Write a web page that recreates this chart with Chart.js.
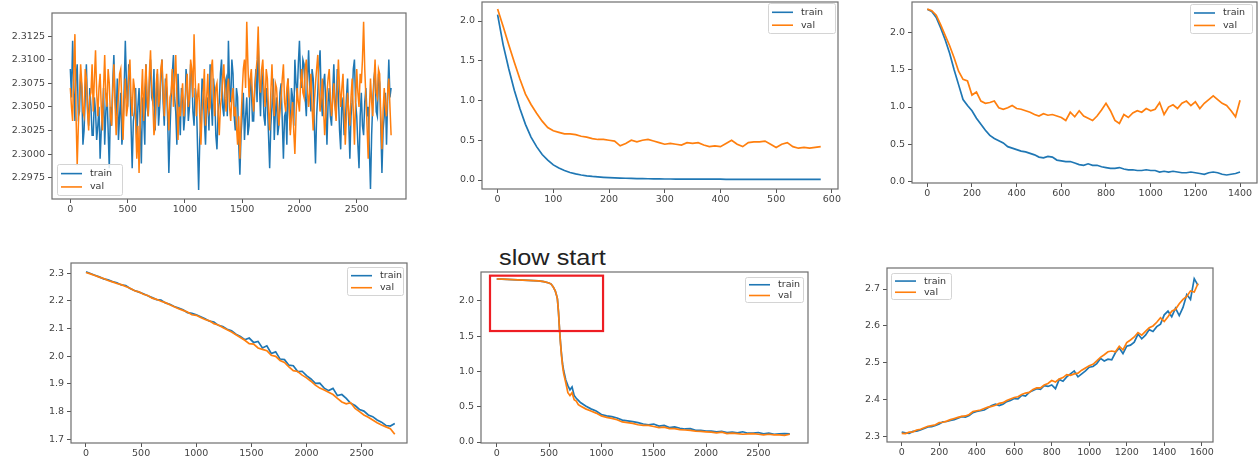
<!DOCTYPE html>
<html>
<head>
<meta charset="utf-8">
<script src="https://cdn.jsdelivr.net/npm/chart.js@4.4.0/dist/chart.umd.min.js"></script>
<style>
html,body{margin:0;padding:0;background:#fff;}
body{width:1260px;height:459px;position:relative;overflow:hidden;}
canvas{position:absolute;}
#note{position:absolute;left:499px;top:247px;font-family:"Liberation Sans",Arial,sans-serif;font-size:22px;line-height:22px;color:#222;transform:scaleX(1.15);transform-origin:0 0;white-space:nowrap;}
</style>
</head>
<body>
<div id="note">slow start</div>
<script>
// ---------------- DATA ----------------
const seriesNames = ['train', 'val'];

// Panel 1 (top-left): flat noisy loss
const steps1 = [0,10,20,30,40,50,60,70,80,90,100,110,120,130,140,150,160,170,180,190,200,210,220,230,240,250,260,270,280,290,300,310,320,330,340,350,360,370,380,390,400,410,420,430,440,450,460,470,480,490,500,510,520,530,540,550,560,570,580,590,600,610,620,630,640,650,660,670,680,690,700,710,720,730,740,750,760,770,780,790,800,810,820,830,840,850,860,870,880,890,900,910,920,930,940,950,960,970,980,990,1000,1010,1020,1030,1040,1050,1060,1070,1080,1090,1100,1110,1120,1130,1140,1150,1160,1170,1180,1190,1200,1210,1220,1230,1240,1250,1260,1270,1280,1290,1300,1310,1320,1330,1340,1350,1360,1370,1380,1390,1400,1410,1420,1430,1440,1450,1460,1470,1480,1490,1500,1510,1520,1530,1540,1550,1560,1570,1580,1590,1600,1610,1620,1630,1640,1650,1660,1670,1680,1690,1700,1710,1720,1730,1740,1750,1760,1770,1780,1790,1800,1810,1820,1830,1840,1850,1860,1870,1880,1890,1900,1910,1920,1930,1940,1950,1960,1970,1980,1990,2000,2010,2020,2030,2040,2050,2060,2070,2080,2090,2100,2110,2120,2130,2140,2150,2160,2170,2180,2190,2200,2210,2220,2230,2240,2250,2260,2270,2280,2290,2300,2310,2320,2330,2340,2350,2360,2370,2380,2390,2400,2410,2420,2430,2440,2450,2460,2470,2480,2490,2500,2510,2520,2530,2540,2550,2560,2570,2580,2590,2600,2610,2620,2630,2640,2650,2660,2670,2680,2690,2700,2710,2720,2730,2740,2750,2760,2770,2780,2790,2800];
const train1 = [
2.3090,2.3060,2.3120,2.3075,2.3035,2.3080,2.3095,2.3040,2.3045,2.3085,2.3070,2.3010,2.3025,2.3060,2.3095,2.3050,2.3030,2.3070,2.3050,2.3020,
2.3020,2.3060,2.3045,2.3015,2.3030,2.3050,2.2995,2.3025,2.3040,2.3070,2.3010,2.3045,2.3065,2.3025,2.2985,2.3050,2.3030,2.3075,2.3105,2.3060,
2.3040,2.3080,2.3015,2.3040,2.3065,2.3010,2.3025,2.3070,2.3120,2.3075,2.3050,2.3095,2.3080,2.3030,2.2985,2.3035,2.3045,2.3070,2.3010,2.3050,
2.3070,2.3030,2.2990,2.3060,2.3040,2.3010,2.3095,2.3050,2.3040,2.3075,2.3100,2.3060,2.3055,2.3090,2.3025,2.3060,2.3085,2.3030,2.3050,2.3080,
2.3100,2.3055,2.3030,2.3080,2.3070,2.3035,2.2980,2.3025,2.3060,2.3085,2.3105,2.3060,2.3045,2.3010,2.3085,2.3050,2.3020,2.3070,2.3060,2.3025,
2.3040,2.3090,2.3075,2.3035,2.3050,2.3095,2.3085,2.3045,2.3030,2.3070,2.3060,2.3010,2.2962,2.3015,2.3040,2.3080,2.3070,2.3035,2.3010,2.3050,
2.3060,2.3025,2.3095,2.3055,2.3030,2.3080,2.3065,2.3020,2.3005,2.3045,2.3055,2.3085,2.3100,2.3050,2.3040,2.3075,2.3080,2.3040,2.3120,2.3070,
2.3055,2.3100,2.3085,2.3040,2.3025,2.3070,2.3060,2.3010,2.2978,2.3020,2.3040,2.3065,2.3015,2.3040,2.3060,2.3020,2.3030,2.3080,2.3070,2.3035,
2.3035,2.3070,2.3090,2.3055,2.3120,2.3075,2.3040,2.3090,2.3075,2.3040,2.3030,2.3070,2.3055,2.3020,2.2985,2.3030,2.3050,2.3080,2.3015,2.3045,
2.3060,2.3020,2.3030,2.3065,2.3075,2.3035,2.2995,2.3040,2.3045,2.3010,2.3080,2.3050,2.3025,2.3070,2.3060,2.3030,2.3100,2.3075,2.3060,2.3095,
2.3120,2.3080,2.3070,2.3100,2.3095,2.3060,2.3040,2.3080,2.3110,2.3070,2.3045,2.3090,2.3080,2.3030,2.2990,2.3040,2.3065,2.3095,2.3110,2.3060,
2.3040,2.3075,2.3085,2.3050,2.3010,2.3055,2.3070,2.3040,2.3030,2.3065,2.3095,2.3055,2.3040,2.3090,2.3060,2.3025,2.3005,2.3060,2.3050,2.3020,
2.3030,2.3060,2.3080,2.3035,2.2995,2.3040,2.3055,2.3090,2.3100,2.3055,2.3040,2.3010,2.2985,2.3040,2.3065,2.3030,2.3020,2.3055,2.3070,2.3040,
2.3050,2.3005,2.2963,2.3020,2.3055,2.3080,2.3090,2.3045,2.3040,2.3085,2.3075,2.3030,2.2980,2.3025,2.3040,2.3065,2.3010,2.3060,2.3100,2.3060,
2.3070];
const val1 = [
2.3070,2.3050,2.3035,2.3090,2.3127,2.3040,2.2988,2.3030,2.3060,2.3095,2.3075,2.3045,2.3040,2.3090,2.3080,2.3045,2.3025,2.3060,2.3065,2.3095,
2.3045,2.3080,2.3110,2.3065,2.3040,2.3070,2.3085,2.3050,2.3025,2.3070,2.3105,2.3060,2.3050,2.3090,2.3075,2.3040,2.3030,2.3065,2.3095,2.3055,
2.3020,2.3045,2.3060,2.3085,2.3090,2.3050,2.3015,2.3055,2.3080,2.3040,2.3050,2.3085,2.3100,2.3060,2.3040,2.3080,2.3070,2.3035,2.2995,2.3030,
2.2980,2.3035,2.3060,2.3090,2.3035,2.3070,2.3095,2.3060,2.3040,2.3085,2.3110,2.3070,2.3055,2.3020,2.3030,2.3075,2.3090,2.3050,2.3060,2.3090,
2.3100,2.3065,2.3040,2.3070,2.3085,2.3050,2.3025,2.3060,2.3065,2.3090,2.3050,2.3080,2.3105,2.3060,2.3015,2.3050,2.3040,2.3060,2.3075,2.3040,
2.3050,2.3070,2.3085,2.3050,2.3060,2.3100,2.3090,2.3060,2.3127,2.3080,2.3040,2.3060,2.3075,2.3040,2.3010,2.3045,2.3065,2.3090,2.3030,2.3060,
2.3085,2.3045,2.3050,2.3090,2.3100,2.3065,2.3040,2.3070,2.3075,2.3045,2.3020,2.3050,2.3060,2.3080,2.3095,2.3060,2.3045,2.3070,2.3080,2.3050,
2.3035,2.3060,2.3070,2.3040,2.3050,2.3030,2.3010,2.3040,2.2995,2.3035,2.3065,2.3090,2.3100,2.3070,2.3140,2.3095,2.3060,2.3080,2.3090,2.3060,
2.3045,2.3070,2.3085,2.3100,2.3135,2.3080,2.3065,2.3090,2.3100,2.3070,2.3050,2.3090,2.3080,2.3045,2.3025,2.3065,2.3095,2.3060,2.3040,2.3075,
2.3070,2.3050,2.3030,2.3045,2.3060,2.3080,2.3095,2.3055,2.3045,2.3070,2.3080,2.3050,2.3020,2.3040,2.3055,2.3025,2.3000,2.3040,2.3070,2.3055,
2.3045,2.3075,2.3090,2.3065,2.3060,2.3090,2.3100,2.3070,2.3050,2.3065,2.3085,2.3050,2.3025,2.3055,2.3075,2.3090,2.3105,2.3070,2.3045,2.3060,
2.3080,2.3050,2.3020,2.3040,2.3065,2.3080,2.3090,2.3060,2.3040,2.3055,2.3075,2.3050,2.3035,2.3070,2.3100,2.3070,2.3050,2.3070,2.3085,2.3045,
2.3010,2.3040,2.3065,2.3045,2.3030,2.3060,2.3080,2.3045,2.3010,2.3055,2.3090,2.3065,2.3050,2.3085,2.3075,2.3100,2.3140,2.3090,2.3060,2.3030,
2.2995,2.3045,2.3080,2.3055,2.3040,2.3075,2.3100,2.3065,2.3060,2.3090,2.3085,2.3040,2.3005,2.3045,2.3070,2.3050,2.3040,2.3065,2.3080,2.3050,
2.3020];
const xTicks1 = [0,500,1000,1500,2000,2500];
const xLabels1 = ['0','500','1000','1500','2000','2500'];
const yTicks1 = [2.2975,2.3000,2.3025,2.3050,2.3075,2.3100,2.3125];
const yLabels1 = ['2.2975','2.3000','2.3025','2.3050','2.3075','2.3100','2.3125'];

// Panel 2 (top-middle): fast fit, val plateaus
const steps2 = [0,10,20,30,40,50,60,70,80,90,100,110,120,130,140,150,160,170,180,190,200,210,220,230,240,250,260,270,280,290,300,310,320,330,340,350,360,370,380,390,400,410,420,430,440,450,460,470,480,490,500,510,520,530,540,550,560,570,580];
const train2 = [2.08,1.70,1.40,1.13,0.90,0.70,0.54,0.42,0.32,0.25,0.19,0.15,0.12,0.095,0.077,0.063,0.053,0.045,0.039,0.034,0.030,0.027,0.024,0.022,0.020,0.018,0.017,0.016,0.015,0.014,0.013,0.013,0.012,0.012,0.011,0.011,0.011,0.010,0.010,0.010,0.010,0.009,0.009,0.009,0.009,0.009,0.008,0.008,0.008,0.008,0.008,0.008,0.007,0.007,0.007,0.007,0.007,0.007,0.007];
const val2 = [2.15,1.93,1.70,1.48,1.27,1.08,0.95,0.84,0.74,0.66,0.62,0.60,0.58,0.58,0.57,0.55,0.54,0.52,0.51,0.51,0.50,0.49,0.43,0.46,0.50,0.48,0.50,0.51,0.49,0.47,0.45,0.46,0.45,0.44,0.47,0.46,0.47,0.44,0.42,0.43,0.42,0.46,0.50,0.45,0.42,0.47,0.48,0.48,0.49,0.45,0.41,0.45,0.47,0.42,0.40,0.41,0.40,0.41,0.42];
const xTicks2 = [0,100,200,300,400,500,600];
const xLabels2 = ['0','100','200','300','400','500','600'];
const yTicks2 = [0,0.5,1,1.5,2];
const yLabels2 = ['0.0','0.5','1.0','1.5','2.0'];

// Panel 3 (top-right): val diverges
const steps3 = [0,20,40,60,80,100,120,140,160,180,200,220,240,260,280,300,320,340,360,380,400,420,440,460,480,500,520,540,560,580,600,620,640,660,680,700,720,740,760,780,800,820,840,860,880,900,920,940,960,980,1000,1020,1040,1060,1080,1100,1120,1140,1160,1180,1200,1220,1240,1260,1280,1300,1320,1340,1360,1380,1400];
const train3 = [
2.31,2.28,2.20,2.06,1.90,1.72,1.50,1.30,1.10,1.02,
0.95,0.85,0.77,0.69,0.62,0.58,0.55,0.52,0.47,0.45,
0.43,0.41,0.40,0.38,0.36,0.33,0.32,0.34,0.33,0.29,
0.28,0.27,0.27,0.25,0.23,0.22,0.24,0.22,0.22,0.20,
0.19,0.18,0.18,0.19,0.17,0.16,0.16,0.15,0.15,0.16,
0.15,0.15,0.13,0.14,0.13,0.14,0.13,0.12,0.12,0.13,
0.12,0.11,0.10,0.12,0.13,0.12,0.10,0.09,0.10,0.11,
0.13];
const val3 = [
2.31,2.29,2.23,2.10,1.96,1.82,1.66,1.48,1.37,1.35,
1.16,1.20,1.08,1.05,1.06,1.08,0.99,0.97,0.99,1.02,
0.98,0.97,0.95,0.93,0.90,0.88,0.91,0.89,0.90,0.88,
0.86,0.82,0.93,0.87,0.95,0.88,0.85,0.82,0.88,0.96,
1.05,0.95,0.82,0.78,0.90,0.86,0.92,0.95,0.93,0.98,
0.95,0.97,1.06,0.90,1.00,1.03,0.98,1.05,1.08,1.02,
1.07,0.98,1.05,1.10,1.15,1.10,1.05,1.02,0.95,0.87,
1.09];
const xTicks3 = [0,200,400,600,800,1000,1200,1400];
const xLabels3 = ['0','200','400','600','800','1000','1200','1400'];
const yTicks3 = [0,0.5,1,1.5,2];
const yLabels3 = ['0.0','0.5','1.0','1.5','2.0'];

// Panel 4 (bottom-left): slow linear decrease
const steps4 = [0,40,80,120,160,200,240,280,320,360,400,440,480,520,560,600,640,680,720,760,800,840,880,920,960,1000,1040,1080,1120,1160,1200,1240,1280,1320,1360,1400,1440,1480,1520,1560,1600,1640,1680,1720,1760,1800,1840,1880,1920,1960,2000,2040,2080,2120,2160,2200,2240,2280,2320,2360,2400,2440,2480,2520,2560,2600,2640,2680,2720,2760,2800];
const train4 = [
2.305,2.299,2.293,2.287,2.280,2.276,2.270,2.266,2.258,2.256,
2.245,2.238,2.232,2.226,2.219,2.212,2.205,2.203,2.193,2.188,
2.180,2.174,2.168,2.158,2.155,2.150,2.143,2.136,2.127,2.124,
2.112,2.108,2.098,2.092,2.080,2.072,2.060,2.066,2.050,2.054,
2.030,2.038,2.010,2.016,1.990,1.988,1.968,1.966,1.945,1.946,
1.930,1.918,1.902,1.903,1.885,1.876,1.884,1.858,1.862,1.848,
1.830,1.822,1.808,1.802,1.788,1.782,1.770,1.762,1.750,1.748,
1.757];
const val4 = [
2.303,2.298,2.292,2.286,2.281,2.274,2.269,2.263,2.259,2.252,
2.246,2.237,2.233,2.224,2.220,2.210,2.206,2.199,2.194,2.186,
2.179,2.172,2.166,2.160,2.150,2.148,2.140,2.133,2.128,2.118,
2.113,2.104,2.096,2.088,2.078,2.068,2.058,2.046,2.044,2.030,
2.025,2.020,2.004,2.000,1.985,1.978,1.962,1.948,1.945,1.932,
1.922,1.910,1.896,1.885,1.878,1.870,1.862,1.848,1.835,1.828,
1.832,1.812,1.800,1.788,1.780,1.770,1.760,1.752,1.745,1.738,
1.718];
const xTicks4 = [0,500,1000,1500,2000,2500];
const xLabels4 = ['0','500','1000','1500','2000','2500'];
const yTicks4 = [1.7,1.8,1.9,2.0,2.1,2.2,2.3];
const yLabels4 = ['1.7','1.8','1.9','2.0','2.1','2.2','2.3'];

// Panel 5 (bottom-middle): slow start
const steps5 = [0,50,100,150,200,250,300,350,400,450,500,520,540,560,570,580,590,600,610,620,630,640,660,680,700,720,740,760,780,800,850,900,950,1000,1050,1100,1150,1200,1250,1300,1350,1400,1450,1500,1550,1600,1650,1700,1750,1800,1850,1900,1950,2000,2050,2100,2150,2200,2250,2300,2350,2400,2450,2500,2550,2600,2650,2700,2750,2800];
const train5 = [
2.312,2.309,2.306,2.303,2.300,2.297,2.293,2.289,2.284,2.275,2.255,
2.240,2.200,2.140,
2.090,2.030,1.850,1.600,1.400,1.230,1.100,1.010,
0.880,0.800,0.740,0.780,0.660,0.620,0.590,0.560,
0.510,0.470,0.440,0.390,0.370,0.360,0.340,0.310,0.300,0.290,
0.275,0.255,0.245,0.255,0.225,0.235,0.205,0.215,0.195,0.185,
0.190,0.165,0.165,0.155,0.155,0.145,0.150,0.135,0.140,0.130,
0.145,0.125,0.125,0.135,0.115,0.125,0.110,0.115,0.120,0.115];
const val5 = [
2.312,2.309,2.306,2.303,2.300,2.297,2.293,2.289,2.284,2.275,2.255,
2.240,2.200,2.140,
2.090,2.030,1.850,1.600,1.390,1.210,1.070,0.970,
0.840,0.700,0.660,0.700,0.600,0.580,0.530,0.510,
0.470,0.440,0.410,0.370,0.350,0.335,0.315,0.285,0.275,0.265,
0.245,0.235,0.235,0.220,0.205,0.210,0.190,0.190,0.175,0.170,
0.165,0.155,0.150,0.145,0.140,0.130,0.140,0.120,0.125,0.120,
0.110,0.115,0.120,0.110,0.100,0.110,0.100,0.100,0.095,0.110];
const xTicks5 = [0,500,1000,1500,2000,2500];
const xLabels5 = ['0','500','1000','1500','2000','2500'];
const yTicks5 = [0,0.5,1,1.5,2];
const yLabels5 = ['0.0','0.5','1.0','1.5','2.0'];
// highlighted region (data coordinates of panel 5)
const slowStartBox = {xFrom: -64, xTo: 1016, yFrom: 1.574, yTo: 2.359};

// Panel 6 (bottom-right): diverging loss
const steps6 = [0,20,40,60,80,100,120,140,160,180,200,220,240,260,280,300,320,340,360,380,400,420,440,460,480,500,520,540,560,580,600,620,640,660,680,700,720,740,760,780,800,820,840,860,880,900,920,940,960,980,1000,1020,1040,1060,1080,1100,1120,1140,1160,1180,1200,1220,1240,1260,1280,1300,1320,1340,1360,1380,1400,1420,1440,1460,1480,1500,1520,1540,1560,1580];
const train6 = [
2.312,2.310,2.309,2.314,2.315,2.318,2.322,2.326,2.327,2.330,
2.334,2.340,2.341,2.344,2.346,2.350,2.354,2.353,2.357,2.365,
2.368,2.370,2.372,2.378,2.384,2.388,2.384,2.388,2.395,2.398,
2.403,2.402,2.412,2.410,2.420,2.425,2.430,2.428,2.438,2.436,
2.440,2.430,2.455,2.450,2.462,2.470,2.478,2.462,2.470,2.478,
2.488,2.490,2.498,2.512,2.505,2.510,2.508,2.528,2.540,2.525,
2.545,2.548,2.556,2.578,2.565,2.575,2.590,2.585,2.598,2.605,
2.630,2.640,2.625,2.648,2.628,2.650,2.685,2.672,2.728,2.710];
const val6 = [
2.309,2.308,2.312,2.313,2.318,2.320,2.324,2.328,2.330,2.332,
2.338,2.339,2.342,2.346,2.349,2.352,2.355,2.356,2.360,2.368,
2.370,2.372,2.376,2.380,2.382,2.385,2.390,2.392,2.398,2.402,
2.406,2.408,2.414,2.418,2.420,2.428,2.432,2.432,2.440,2.444,
2.452,2.448,2.456,2.460,2.468,2.466,2.470,2.472,2.480,2.486,
2.492,2.496,2.505,2.515,2.522,2.530,2.532,2.530,2.545,2.535,
2.555,2.562,2.570,2.582,2.575,2.585,2.595,2.600,2.610,2.622,
2.612,2.625,2.640,2.645,2.660,2.672,2.680,2.695,2.692,2.715];
const xTicks6 = [0,200,400,600,800,1000,1200,1400,1600];
const xLabels6 = ['0','200','400','600','800','1000','1200','1400','1600'];
const yTicks6 = [2.3,2.4,2.5,2.6,2.7];
const yLabels6 = ['2.3','2.4','2.5','2.6','2.7'];

// ---------------- LAYOUT / STYLE ----------------
const COLORS = ['#1f77b4', '#ff7f0e'];
const FONT = '"DejaVu Sans", sans-serif';
const panels = [
  {steps: steps1, train: train1, val: val1, frame: [52,13,406,199], xr: [-160,2930], yr: [2.29524,2.31494],
   xt: xTicks1, xl: xLabels1, yt: yTicks1, yl: yLabels1, legend: [57,164,122,195], lw: 1.5},
  {steps: steps2, train: train2, val: val2, frame: [482,2,838,189], xr: [-28,611], yr: [-0.113,2.239],
   xt: xTicks2, xl: xLabels2, yt: yTicks2, yl: yLabels2, legend: [768,3,835,33], lw: 1.7},
  {steps: steps3, train: train3, val: val3, frame: [912,2,1257,183], xr: [-68.5,1476], yr: [-0.017,2.406],
   xt: xTicks3, xl: xLabels3, yt: yTicks3, yl: yLabels3, legend: [1190,4,1252,33], lw: 1.7},
  {steps: steps4, train: train4, val: val4, frame: [71,263,407,443], xr: [-136,2911], yr: [1.6867,2.3372],
   xt: xTicks4, xl: xLabels4, yt: yTicks4, yl: yLabels4, legend: [347,267,403,295], lw: 1.7},
  {steps: steps5, train: train5, val: val5, frame: [481,272,808,443], xr: [-150,2974], yr: [-0.014,2.411],
   xt: xTicks5, xl: xLabels5, yt: yTicks5, yl: yLabels5, legend: [745,277,803,302], box: slowStartBox, lw: 1.7},
  {steps: steps6, train: train6, val: val6, frame: [887,268,1213,442], xr: [-78.4,1660], yr: [2.2854,2.757],
   xt: xTicks6, xl: xLabels6, yt: yTicks6, yl: yLabels6, legend: [891,273,951,299], lw: 1.7}
];

const framePlugin = {
  id: 'mplFrame',
  afterDatasetsDraw(chart) {
    const a = chart.chartArea, ctx = chart.ctx;
    ctx.save();
    ctx.strokeStyle = '#6e6e6e';
    ctx.lineWidth = 1.2;
    ctx.strokeRect(a.left, a.top, a.right - a.left, a.bottom - a.top);
    ctx.restore();
  }
};

function makeExtrasPlugin(p, ox, oy) {
  return {
    id: 'mplExtras',
    afterDraw(chart) {
      const ctx = chart.ctx;
      ctx.save();
      if (p.box) {
        const xs = chart.scales.x, ys = chart.scales.y;
        const x0 = xs.getPixelForValue(p.box.xFrom), x1 = xs.getPixelForValue(p.box.xTo);
        const y0 = ys.getPixelForValue(p.box.yTo), y1 = ys.getPixelForValue(p.box.yFrom);
        ctx.strokeStyle = '#ee1d23';
        ctx.lineWidth = 2.2;
        ctx.strokeRect(x0, y0, x1 - x0, y1 - y0);
      }
      const L = p.legend;
      const x0 = L[0] - ox, y0 = L[1] - oy, w = L[2] - L[0], h = L[3] - L[1];
      ctx.fillStyle = 'rgba(255,255,255,0.85)';
      ctx.strokeStyle = '#d4d4d4';
      ctx.lineWidth = 1;
      ctx.beginPath();
      if (ctx.roundRect) ctx.roundRect(x0 + 0.5, y0 + 0.5, w, h, 2); else ctx.rect(x0 + 0.5, y0 + 0.5, w, h);
      ctx.fill(); ctx.stroke();
      chart.data.datasets.forEach((ds, i) => {
        const y = y0 + h * (i === 0 ? 0.31 : 0.74);
        ctx.strokeStyle = ds.borderColor;
        ctx.lineWidth = 1.6;
        ctx.beginPath(); ctx.moveTo(x0 + 4, y); ctx.lineTo(x0 + 25, y); ctx.stroke();
        ctx.fillStyle = '#333';
        ctx.font = '9.5px ' + FONT;
        ctx.textAlign = 'left';
        ctx.textBaseline = 'middle';
        ctx.fillText(ds.label, x0 + 33, y);
      });
      ctx.restore();
    }
  };
}

const WY = 46, HX = 20, PAD = 12;
panels.forEach((p) => {
  const [fl, ft, fr, fb] = p.frame;
  const left = fl - WY - PAD, top = ft - PAD;
  const w = (fr - fl) + WY + 2 * PAD, h = (fb - ft) + HX + 2 * PAD;
  const cv = document.createElement('canvas');
  cv.width = w; cv.height = h;
  cv.style.left = left + 'px'; cv.style.top = top + 'px';
  cv.style.width = w + 'px'; cv.style.height = h + 'px';
  document.body.appendChild(cv);
  const mk = (arr) => p.steps.map((s, i) => ({x: s, y: arr[i]}));
  const tickFont = {family: FONT, size: 9.5};
  new Chart(cv, {
    type: 'line',
    data: {
      datasets: [
        {label: seriesNames[0], data: mk(p.train), borderColor: COLORS[0], borderWidth: p.lw, pointRadius: 0, tension: 0, fill: false, order: 2},
        {label: seriesNames[1], data: mk(p.val), borderColor: COLORS[1], borderWidth: p.lw, pointRadius: 0, tension: 0, fill: false, order: 1}
      ]
    },
    options: {
      responsive: false, animation: false, devicePixelRatio: 1,
      layout: {padding: PAD},
      plugins: {legend: {display: false}, tooltip: {enabled: false}},
      scales: {
        x: {
          type: 'linear', min: p.xr[0], max: p.xr[1], bounds: 'data',
          afterBuildTicks: (s) => { s.ticks = p.xt.map(v => ({value: v})); },
          afterFit: (s) => { s.height = HX; },
          ticks: {callback: (v, i) => p.xl[i], autoSkip: false, maxRotation: 0, padding: 1, color: '#444', font: tickFont},
          grid: {drawOnChartArea: false, drawTicks: true, tickLength: 4, tickColor: '#555', tickWidth: 1},
          border: {display: false}
        },
        y: {
          type: 'linear', min: p.yr[0], max: p.yr[1], bounds: 'data',
          afterBuildTicks: (s) => { s.ticks = p.yt.map(v => ({value: v})); },
          afterFit: (s) => { s.width = WY; },
          ticks: {callback: (v, i) => p.yl[i], autoSkip: false, padding: 3, color: '#444', font: tickFont},
          grid: {drawOnChartArea: false, drawTicks: true, tickLength: 4, tickColor: '#555', tickWidth: 1},
          border: {display: false}
        }
      }
    },
    plugins: [framePlugin, makeExtrasPlugin(p, left, top)]
  });
});
</script>
</body>
</html>
